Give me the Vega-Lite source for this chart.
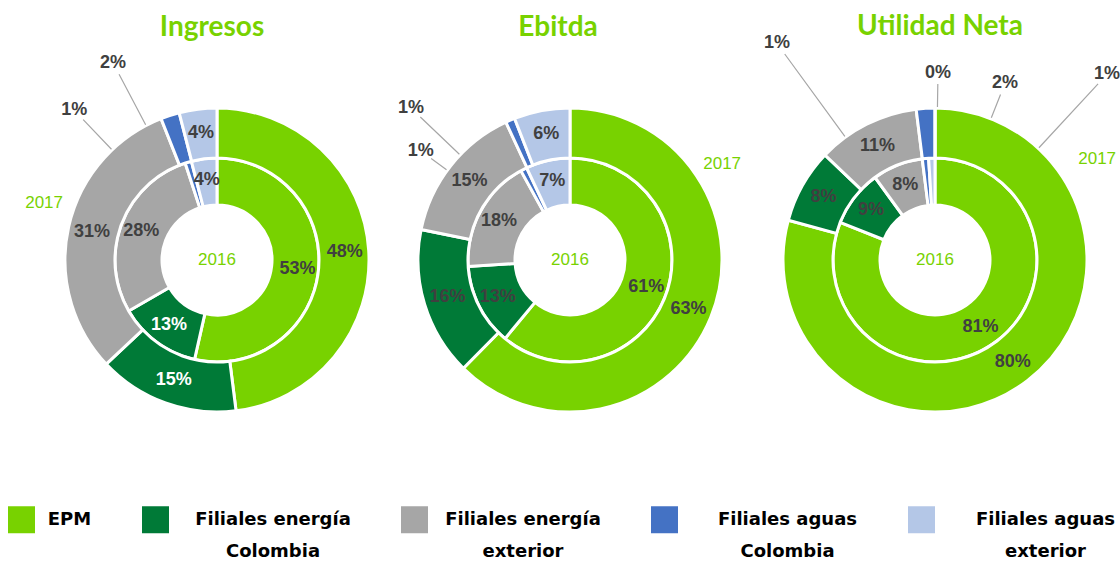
{
  "$schema": "https://vega.github.io/schema/vega-lite/v6.json",
  "padding": {"left": 8, "top": 13, "right": 0, "bottom": 0},
  "bounds": "flush",
  "spacing": 0,
  "datasets": {
    "participaciones": [
      {"indicador": "Ingresos", "anio": "2016", "grupo": "EPM", "orden": 1, "participacion": 0.53},
      {"indicador": "Ingresos", "anio": "2016", "grupo": "Filiales energía Colombia", "orden": 2, "participacion": 0.13},
      {"indicador": "Ingresos", "anio": "2016", "grupo": "Filiales energía exterior", "orden": 3, "participacion": 0.28},
      {"indicador": "Ingresos", "anio": "2016", "grupo": "Filiales aguas Colombia", "orden": 4, "participacion": 0.01},
      {"indicador": "Ingresos", "anio": "2016", "grupo": "Filiales aguas exterior", "orden": 5, "participacion": 0.04},
      {"indicador": "Ingresos", "anio": "2017", "grupo": "EPM", "orden": 1, "participacion": 0.48},
      {"indicador": "Ingresos", "anio": "2017", "grupo": "Filiales energía Colombia", "orden": 2, "participacion": 0.15},
      {"indicador": "Ingresos", "anio": "2017", "grupo": "Filiales energía exterior", "orden": 3, "participacion": 0.31},
      {"indicador": "Ingresos", "anio": "2017", "grupo": "Filiales aguas Colombia", "orden": 4, "participacion": 0.02},
      {"indicador": "Ingresos", "anio": "2017", "grupo": "Filiales aguas exterior", "orden": 5, "participacion": 0.04},
      {"indicador": "Ebitda", "anio": "2016", "grupo": "EPM", "orden": 1, "participacion": 0.61},
      {"indicador": "Ebitda", "anio": "2016", "grupo": "Filiales energía Colombia", "orden": 2, "participacion": 0.13},
      {"indicador": "Ebitda", "anio": "2016", "grupo": "Filiales energía exterior", "orden": 3, "participacion": 0.18},
      {"indicador": "Ebitda", "anio": "2016", "grupo": "Filiales aguas Colombia", "orden": 4, "participacion": 0.01},
      {"indicador": "Ebitda", "anio": "2016", "grupo": "Filiales aguas exterior", "orden": 5, "participacion": 0.07},
      {"indicador": "Ebitda", "anio": "2017", "grupo": "EPM", "orden": 1, "participacion": 0.63},
      {"indicador": "Ebitda", "anio": "2017", "grupo": "Filiales energía Colombia", "orden": 2, "participacion": 0.16},
      {"indicador": "Ebitda", "anio": "2017", "grupo": "Filiales energía exterior", "orden": 3, "participacion": 0.15},
      {"indicador": "Ebitda", "anio": "2017", "grupo": "Filiales aguas Colombia", "orden": 4, "participacion": 0.01},
      {"indicador": "Ebitda", "anio": "2017", "grupo": "Filiales aguas exterior", "orden": 5, "participacion": 0.06},
      {"indicador": "Utilidad Neta", "anio": "2016", "grupo": "EPM", "orden": 1, "participacion": 0.81},
      {"indicador": "Utilidad Neta", "anio": "2016", "grupo": "Filiales energía Colombia", "orden": 2, "participacion": 0.09},
      {"indicador": "Utilidad Neta", "anio": "2016", "grupo": "Filiales energía exterior", "orden": 3, "participacion": 0.08},
      {"indicador": "Utilidad Neta", "anio": "2016", "grupo": "Filiales aguas Colombia", "orden": 4, "participacion": 0.01},
      {"indicador": "Utilidad Neta", "anio": "2016", "grupo": "Filiales aguas exterior", "orden": 5, "participacion": 0.01},
      {"indicador": "Utilidad Neta", "anio": "2017", "grupo": "EPM", "orden": 1, "participacion": 0.80},
      {"indicador": "Utilidad Neta", "anio": "2017", "grupo": "Filiales energía Colombia", "orden": 2, "participacion": 0.08},
      {"indicador": "Utilidad Neta", "anio": "2017", "grupo": "Filiales energía exterior", "orden": 3, "participacion": 0.11},
      {"indicador": "Utilidad Neta", "anio": "2017", "grupo": "Filiales aguas Colombia", "orden": 4, "participacion": 0.02},
      {"indicador": "Utilidad Neta", "anio": "2017", "grupo": "Filiales aguas exterior", "orden": 5, "participacion": 0.00}
    ]
  },
  "resolve": {"scale": {"color": "shared", "theta": "independent"}, "legend": {"color": "shared"}},
  "hconcat": [
    {
      "width": 346, "height": 300,
      "title": {"text": "Ingresos", "dx": -5, "offset": 12},
      "data": {"name": "participaciones"},
      "transform": [{"filter": "datum.indicador == 'Ingresos'"}],
      "layer": [
        {"transform": [{"filter": "datum.anio == '2016'"}],
         "mark": {"type": "arc", "radius": 102, "radius2": 55, "stroke": "white", "strokeWidth": 3},
         "encoding": {"theta": {"field": "participacion", "type": "quantitative", "stack": "normalize", "scale": {"domain": [0, 1]}}, "order": {"field": "orden", "type": "quantitative"},
           "color": {"field": "grupo", "type": "nominal", "scale": {"domain": ["EPM", "Filiales energía Colombia", "Filiales energía exterior", "Filiales aguas Colombia", "Filiales aguas exterior"], "range": ["#78D200", "#007A37", "#A6A6A6", "#4472C4", "#B4C7E7"]},
             "legend": {"orient": "none", "legendX": -36, "legendY": 396, "direction": "horizontal", "columns": 5, "title": null, "symbolType": "square", "symbolSize": 729, "symbolStrokeWidth": 0, "labelFont": "DejaVu Sans", "labelFontSize": 18, "labelFontWeight": "bold", "labelColor": "#000000", "labelAlign": "center", "labelOffset": 0, "columnPadding": 50, "labelLimit": 400, "padding": 0, "labelExpr": "datum.label == 'EPM' ? ['EPM', ''] : [slice(datum.label, 0, lastindexof(datum.label, ' ')), slice(datum.label, lastindexof(datum.label, ' ') + 1)]", "encoding": {"labels": {"lineHeight": {"value": 32}, "dx": {"value": {"expr": "[34.5, 104, 95, 109.5, 110.5][datum.index]"}}}}}}}},
        {"transform": [{"filter": "datum.anio == '2017'"}],
         "mark": {"type": "arc", "radius": 152, "radius2": 102, "stroke": "white", "strokeWidth": 3},
         "encoding": {"theta": {"field": "participacion", "type": "quantitative", "stack": "normalize", "scale": {"domain": [0, 1]}}, "order": {"field": "orden", "type": "quantitative"},
           "color": {"field": "grupo", "type": "nominal"}}},
        {"transform": [{"filter": "datum.anio == '2016'"}],
         "mark": {"type": "text", "radius": 81, "font": "Liberation Sans", "fontSize": 18, "fontWeight": "bold"},
         "encoding": {"theta": {"field": "participacion", "type": "quantitative", "stack": "normalize", "scale": {"domain": [0, 1]}}, "order": {"field": "orden", "type": "quantitative"}, "detail": {"field": "grupo"},
           "text": {"field": "participacion", "type": "quantitative", "format": ".0%", "condition": {"test": "datum.participacion < 0.03", "value": ""}},
           "color": {"condition": {"test": "datum.grupo == 'Filiales energía Colombia'", "value": "#FFFFFF"}, "value": "#404040"}}},
        {"transform": [{"filter": "datum.anio == '2017'"}],
         "mark": {"type": "text", "radius": 128, "font": "Liberation Sans", "fontSize": 18, "fontWeight": "bold"},
         "encoding": {"theta": {"field": "participacion", "type": "quantitative", "stack": "normalize", "scale": {"domain": [0, 1]}}, "order": {"field": "orden", "type": "quantitative"}, "detail": {"field": "grupo"},
           "text": {"field": "participacion", "type": "quantitative", "format": ".0%", "condition": {"test": "datum.participacion < 0.03", "value": ""}},
           "color": {"condition": {"test": "datum.grupo == 'Filiales energía Colombia'", "value": "#FFFFFF"}, "value": "#404040"}}},
        {"transform": [{"filter": "datum.anio == '2016' && datum.grupo == 'EPM'"}],
         "mark": {"type": "text", "font": "Liberation Sans", "fontSize": 17, "color": "#78D200"},
         "encoding": {"text": {"field": "anio"}}},
        {"transform": [{"filter": "datum.anio == '2017' && datum.grupo == 'EPM'"}],
         "mark": {"type": "text", "theta": 5.030, "radius": 182, "font": "Liberation Sans", "fontSize": 17, "color": "#78D200"},
         "encoding": {"text": {"field": "anio"}}},
        {"transform": [{"filter": "datum.anio == '2016' && datum.grupo == 'Filiales aguas Colombia'"}],
         "mark": {"type": "arc", "theta": 5.522, "theta2": 5.522, "radius": 194, "radius2": 153, "stroke": "#A6A6A6", "strokeWidth": 1.2, "fill": null},
         "encoding": {}},
        {"transform": [{"filter": "datum.anio == '2016' && datum.grupo == 'Filiales aguas Colombia'"}],
         "mark": {"type": "text", "theta": 5.522, "radius": 207, "font": "Liberation Sans", "fontSize": 18, "fontWeight": "bold", "color": "#404040"},
         "encoding": {"text": {"field": "participacion", "type": "quantitative", "format": ".0%"}}},
        {"transform": [{"filter": "datum.anio == '2017' && datum.grupo == 'Filiales aguas Colombia'"}],
         "mark": {"type": "arc", "theta": 5.798, "theta2": 5.798, "radius": 210, "radius2": 153, "stroke": "#A6A6A6", "strokeWidth": 1.2, "fill": null},
         "encoding": {}},
        {"transform": [{"filter": "datum.anio == '2017' && datum.grupo == 'Filiales aguas Colombia'"}],
         "mark": {"type": "text", "theta": 5.798, "radius": 223, "font": "Liberation Sans", "fontSize": 18, "fontWeight": "bold", "color": "#404040"},
         "encoding": {"text": {"field": "participacion", "type": "quantitative", "format": ".0%"}}}
      ]
    },
    {
      "width": 360, "height": 300,
      "title": {"text": "Ebitda", "dx": -12, "offset": 57},
      "data": {"name": "participaciones"},
      "transform": [{"filter": "datum.indicador == 'Ebitda'"}],
      "layer": [
        {"transform": [{"filter": "datum.anio == '2016'"}],
         "mark": {"type": "arc", "radius": 102, "radius2": 55, "stroke": "white", "strokeWidth": 3},
         "encoding": {"theta": {"field": "participacion", "type": "quantitative", "stack": "normalize", "scale": {"domain": [0, 1]}}, "order": {"field": "orden", "type": "quantitative"},
           "color": {"field": "grupo", "type": "nominal"}}},
        {"transform": [{"filter": "datum.anio == '2017'"}],
         "mark": {"type": "arc", "radius": 152, "radius2": 102, "stroke": "white", "strokeWidth": 3},
         "encoding": {"theta": {"field": "participacion", "type": "quantitative", "stack": "normalize", "scale": {"domain": [0, 1]}}, "order": {"field": "orden", "type": "quantitative"},
           "color": {"field": "grupo", "type": "nominal"}}},
        {"transform": [{"filter": "datum.anio == '2016'"}],
         "mark": {"type": "text", "radius": 81, "font": "Liberation Sans", "fontSize": 18, "fontWeight": "bold", "color": "#404040"},
         "encoding": {"theta": {"field": "participacion", "type": "quantitative", "stack": "normalize", "scale": {"domain": [0, 1]}}, "order": {"field": "orden", "type": "quantitative"}, "detail": {"field": "grupo"},
           "text": {"field": "participacion", "type": "quantitative", "format": ".0%", "condition": {"test": "datum.participacion < 0.03", "value": ""}}}},
        {"transform": [{"filter": "datum.anio == '2017'"}],
         "mark": {"type": "text", "radius": 128, "font": "Liberation Sans", "fontSize": 18, "fontWeight": "bold", "color": "#404040"},
         "encoding": {"theta": {"field": "participacion", "type": "quantitative", "stack": "normalize", "scale": {"domain": [0, 1]}}, "order": {"field": "orden", "type": "quantitative"}, "detail": {"field": "grupo"},
           "text": {"field": "participacion", "type": "quantitative", "format": ".0%", "condition": {"test": "datum.participacion < 0.03", "value": ""}}}},
        {"transform": [{"filter": "datum.anio == '2016' && datum.grupo == 'EPM'"}],
         "mark": {"type": "text", "font": "Liberation Sans", "fontSize": 17, "color": "#78D200"},
         "encoding": {"text": {"field": "anio"}}},
        {"transform": [{"filter": "datum.anio == '2017' && datum.grupo == 'EPM'"}],
         "mark": {"type": "text", "theta": 1.007, "radius": 180, "font": "Liberation Sans", "fontSize": 17, "color": "#78D200"},
         "encoding": {"text": {"field": "anio"}}},
        {"transform": [{"filter": "datum.anio == '2017' && datum.grupo == 'Filiales aguas Colombia'"}],
         "mark": {"type": "arc", "theta": 5.475, "theta2": 5.475, "radius": 207, "radius2": 153, "stroke": "#A6A6A6", "strokeWidth": 1.2, "fill": null},
         "encoding": {}},
        {"transform": [{"filter": "datum.anio == '2017' && datum.grupo == 'Filiales aguas Colombia'"}],
         "mark": {"type": "text", "theta": 5.475, "radius": 220, "font": "Liberation Sans", "fontSize": 18, "fontWeight": "bold", "color": "#404040"},
         "encoding": {"text": {"field": "participacion", "type": "quantitative", "format": ".0%"}}},
        {"transform": [{"filter": "datum.anio == '2016' && datum.grupo == 'Filiales aguas Colombia'"}],
         "mark": {"type": "arc", "theta": 5.344, "theta2": 5.344, "radius": 172, "radius2": 153, "stroke": "#A6A6A6", "strokeWidth": 1.2, "fill": null},
         "encoding": {}},
        {"transform": [{"filter": "datum.anio == '2016' && datum.grupo == 'Filiales aguas Colombia'"}],
         "mark": {"type": "text", "theta": 5.344, "radius": 185, "font": "Liberation Sans", "fontSize": 18, "fontWeight": "bold", "color": "#404040"},
         "encoding": {"text": {"field": "participacion", "type": "quantitative", "format": ".0%"}}}
      ]
    },
    {
      "width": 370, "height": 300,
      "title": {"text": "Utilidad Neta", "dx": 5, "offset": -7},
      "data": {"name": "participaciones"},
      "transform": [{"filter": "datum.indicador == 'Utilidad Neta'"}],
      "layer": [
        {"transform": [{"filter": "datum.anio == '2016'"}],
         "mark": {"type": "arc", "radius": 102, "radius2": 55, "stroke": "white", "strokeWidth": 3},
         "encoding": {"theta": {"field": "participacion", "type": "quantitative", "stack": "normalize", "scale": {"domain": [0, 1]}}, "order": {"field": "orden", "type": "quantitative"},
           "color": {"field": "grupo", "type": "nominal"}}},
        {"transform": [{"filter": "datum.anio == '2017'"}],
         "mark": {"type": "arc", "radius": 152, "radius2": 102, "stroke": "white", "strokeWidth": 3},
         "encoding": {"theta": {"field": "participacion", "type": "quantitative", "stack": "normalize", "scale": {"domain": [0, 1]}}, "order": {"field": "orden", "type": "quantitative"},
           "color": {"field": "grupo", "type": "nominal"}}},
        {"transform": [{"filter": "datum.anio == '2016'"}],
         "mark": {"type": "text", "radius": 81, "font": "Liberation Sans", "fontSize": 18, "fontWeight": "bold", "color": "#404040"},
         "encoding": {"theta": {"field": "participacion", "type": "quantitative", "stack": "normalize", "scale": {"domain": [0, 1]}}, "order": {"field": "orden", "type": "quantitative"}, "detail": {"field": "grupo"},
           "text": {"field": "participacion", "type": "quantitative", "format": ".0%", "condition": {"test": "datum.participacion < 0.03", "value": ""}}}},
        {"transform": [{"filter": "datum.anio == '2017'"}],
         "mark": {"type": "text", "radius": 128, "font": "Liberation Sans", "fontSize": 18, "fontWeight": "bold", "color": "#404040"},
         "encoding": {"theta": {"field": "participacion", "type": "quantitative", "stack": "normalize", "scale": {"domain": [0, 1]}}, "order": {"field": "orden", "type": "quantitative"}, "detail": {"field": "grupo"},
           "text": {"field": "participacion", "type": "quantitative", "format": ".0%", "condition": {"test": "datum.participacion < 0.03", "value": ""}}}},
        {"transform": [{"filter": "datum.anio == '2016' && datum.grupo == 'EPM'"}],
         "mark": {"type": "text", "font": "Liberation Sans", "fontSize": 17, "color": "#78D200"},
         "encoding": {"text": {"field": "anio"}}},
        {"transform": [{"filter": "datum.anio == '2017' && datum.grupo == 'EPM'"}],
         "mark": {"type": "text", "theta": 1.014, "radius": 191, "font": "Liberation Sans", "fontSize": 17, "color": "#78D200"},
         "encoding": {"text": {"field": "anio"}}},
        {"transform": [{"filter": "datum.anio == '2016' && datum.grupo == 'Filiales aguas Colombia'"}],
         "mark": {"type": "arc", "theta": 5.653, "theta2": 5.653, "radius": 255, "radius2": 153, "stroke": "#A6A6A6", "strokeWidth": 1.2, "fill": null},
         "encoding": {}},
        {"transform": [{"filter": "datum.anio == '2016' && datum.grupo == 'Filiales aguas Colombia'"}],
         "mark": {"type": "text", "theta": 5.653, "radius": 268, "font": "Liberation Sans", "fontSize": 18, "fontWeight": "bold", "color": "#404040"},
         "encoding": {"text": {"field": "participacion", "type": "quantitative", "format": ".0%"}}},
        {"transform": [{"filter": "datum.anio == '2017' && datum.grupo == 'Filiales aguas exterior'"}],
         "mark": {"type": "arc", "theta": 0.016, "theta2": 0.016, "radius": 176, "radius2": 153, "stroke": "#A6A6A6", "strokeWidth": 1.2, "fill": null},
         "encoding": {}},
        {"transform": [{"filter": "datum.anio == '2017' && datum.grupo == 'Filiales aguas exterior'"}],
         "mark": {"type": "text", "theta": 0.016, "radius": 187, "font": "Liberation Sans", "fontSize": 18, "fontWeight": "bold", "color": "#404040"},
         "encoding": {"text": {"field": "participacion", "type": "quantitative", "format": ".0%"}}},
        {"transform": [{"filter": "datum.anio == '2017' && datum.grupo == 'Filiales aguas Colombia'"}],
         "mark": {"type": "arc", "theta": 0.377, "theta2": 0.377, "radius": 178, "radius2": 153, "stroke": "#A6A6A6", "strokeWidth": 1.2, "fill": null},
         "encoding": {}},
        {"transform": [{"filter": "datum.anio == '2017' && datum.grupo == 'Filiales aguas Colombia'"}],
         "mark": {"type": "text", "theta": 0.377, "radius": 190, "font": "Liberation Sans", "fontSize": 18, "fontWeight": "bold", "color": "#404040"},
         "encoding": {"text": {"field": "participacion", "type": "quantitative", "format": ".0%"}}},
        {"transform": [{"filter": "datum.anio == '2016' && datum.grupo == 'Filiales aguas exterior'"}],
         "mark": {"type": "arc", "theta": 0.747, "theta2": 0.747, "radius": 240, "radius2": 153, "stroke": "#A6A6A6", "strokeWidth": 1.2, "fill": null},
         "encoding": {}},
        {"transform": [{"filter": "datum.anio == '2016' && datum.grupo == 'Filiales aguas exterior'"}],
         "mark": {"type": "text", "theta": 0.747, "radius": 253, "font": "Liberation Sans", "fontSize": 18, "fontWeight": "bold", "color": "#404040"},
         "encoding": {"text": {"field": "participacion", "type": "quantitative", "format": ".0%"}}}
      ]
    }
  ],
  "config": {
    "view": {"stroke": null},
    "title": {"font": "Lato", "fontSize": 28, "fontWeight": "bold", "color": "#78D200", "baseline": "alphabetic", "anchor": "middle", "frame": "group"}
  }
}
